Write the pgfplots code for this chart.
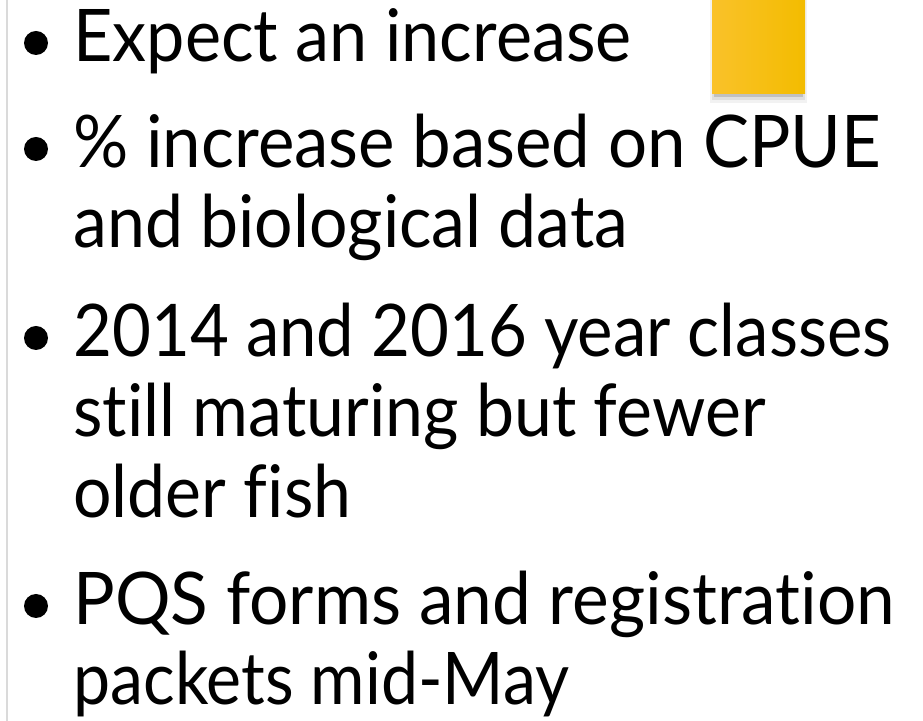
\documentclass[border=0pt]{standalone}
\usepackage{fontspec}
\setmainfont{Lato}[Ligatures={NoCommon,NoRequired}]
\usepackage{graphicx}
\usepackage{pgfplots}
\pgfplotsset{compat=1.18}

\definecolor{boxl}{HTML}{FAC22A}
\definecolor{boxm}{HTML}{FFC800}
\definecolor{boxr}{HTML}{F3BC00}
\definecolor{rule}{HTML}{DADADA}

% stretch a line sideways to the width it has on the slide
\newcommand\fitline[2]{\resizebox{#1}{\height}{#2}}

\tikzset{
    txt/.style={anchor=base west, inner sep=0pt, font=\fontsize{36.3}{40}\selectfont},
    dot/.style={circle, fill=black, draw=none, inner sep=0pt, outer sep=0pt, minimum size=12pt},
}

\begin{document}
\begin{tikzpicture}
\begin{axis}[
    scale only axis,
    width=461.5pt, height=360.5pt,
    xmin=0, xmax=923, ymin=0, ymax=721,
    y dir=reverse,
    hide axis,
    clip=true,
]

% left rule
\addplot[draw=rule, line width=1.1pt] coordinates {(7,0) (7,721)};

% yellow tab with its shadow
\addplot[draw=none, fill=black, fill opacity=0.05] coordinates {(710,0) (807,0) (807,103) (710,103)} -- cycle;
\addplot[draw=none, fill=black, fill opacity=0.08] coordinates {(712,0) (805,0) (805,100) (712,100)} -- cycle;
\addplot[draw=none, fill=black, fill opacity=0.14] coordinates {(714,0) (803,0) (803,97) (714,97)} -- cycle;
\addplot[draw=none, left color=boxl, middle color=boxm, right color=boxr] coordinates {(712,0) (805,0) (805,94) (712,94)} -- cycle;

% bullets
\node[dot] at (axis cs:36,43) {};
\node[dot] at (axis cs:36,149) {};
\node[dot] at (axis cs:36,338) {};
\node[dot] at (axis cs:36,606) {};

% text lines
\node[txt] at (axis cs:73,62)  {\fitline{279pt}{Expect an increase}};
\node[txt] at (axis cs:73,168) {\fitline{404pt}{\% increase based on CPUE}};
\node[txt] at (axis cs:73,248) {\fitline{277.5pt}{and biological data}};
\node[txt] at (axis cs:73,357) {\fitline{409pt}{2014 and 2016 year classes}};
\node[txt] at (axis cs:73,437) {\fitline{346pt}{still maturing but fewer}};
\node[txt] at (axis cs:73,518) {\fitline{139pt}{older fish}};
\node[txt] at (axis cs:73,625) {\fitline{411pt}{PQS forms and registration}};
\node[txt] at (axis cs:73,705) {\fitline{248pt}{packets mid-May}};
\end{axis}
\pgfresetboundingbox
\path (current axis.south west) rectangle (current axis.north east);
\end{tikzpicture}
\end{document}
